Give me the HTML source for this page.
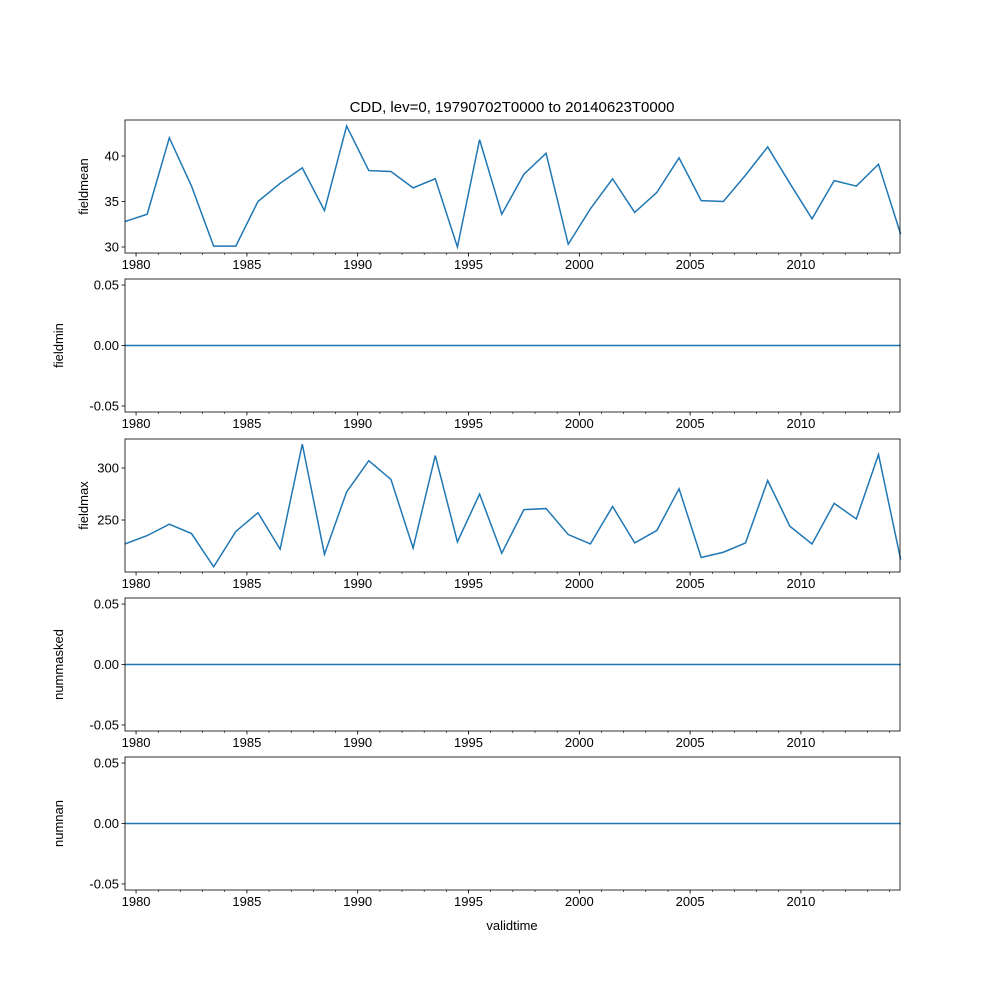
<!DOCTYPE html>
<html><head><meta charset="utf-8"><style>body{margin:0;background:#fff}svg{display:block;font-family:"Liberation Sans","DejaVu Sans",sans-serif}</style></head>
<body>
<svg id="chart" width="1000" height="1000" xmlns="http://www.w3.org/2000/svg">
<rect width="1000" height="1000" fill="#fff"/>
<text x="512" y="112" font-size="15" text-anchor="middle">CDD, lev=0, 19790702T0000 to 20140623T0000</text>
<text x="512" y="930" font-size="13" text-anchor="middle">validtime</text>
</svg>
<script>
const years = [1979,1980,1981,1982,1983,1984,1985,1986,1987,1988,1989,1990,1991,1992,1993,1994,1995,1996,1997,1998,1999,2000,2001,2002,2003,2004,2005,2006,2007,2008,2009,2010,2011,2012,2013,2014];
const fieldmean = [32.8,33.6,42.0,36.7,30.1,30.1,35.0,37.0,38.7,34.0,43.3,38.4,38.3,36.5,37.5,30.0,41.8,33.6,38.0,40.3,30.3,34.2,37.5,33.8,36.0,39.8,35.1,35.0,37.9,41.0,37.0,33.1,37.3,36.7,39.1,31.4];
const fieldmin = years.map(()=>0);
const fieldmax = [227,235,246,237,205,239,257,222,323,217,277,307,289,223,312,229,275,218,260,261,236,227,263,228,240,280,214,219,228,288,244,227,266,251,313,212];
const nummasked = years.map(()=>0);
const numnan = years.map(()=>0);
const xTickLabels = [1980,1985,1990,1995,2000,2005,2010];
const yTicksMean = [30,35,40];
const yTicksMax = [250,300];
const yTicksZero = [-0.05,0,0.05];

const svg=document.getElementById('chart');
const NS='http://www.w3.org/2000/svg';
const L=125,R=900;
const x0=1979.5,x1=2014.47;
function xs(v){return L+(v-x0)/(x1-x0)*(R-L);}
function mk(tag,attrs,parent){const e=document.createElementNS(NS,tag);for(const k in attrs)e.setAttribute(k,attrs[k]);(parent||svg).appendChild(e);return e;}
const panels=[
 {name:'fieldmean',data:fieldmean,top:120,bot:253,lo:29.34,hi:43.96,ticks:yTicksMean,fmt:v=>String(v)},
 {name:'fieldmin',data:fieldmin,top:279,bot:412,lo:-0.055,hi:0.055,ticks:yTicksZero,fmt:v=>v.toFixed(2)},
 {name:'fieldmax',data:fieldmax,top:439,bot:572,lo:200,hi:327.9,ticks:yTicksMax,fmt:v=>String(v)},
 {name:'nummasked',data:nummasked,top:598,bot:731,lo:-0.055,hi:0.055,ticks:yTicksZero,fmt:v=>v.toFixed(2)},
 {name:'numnan',data:numnan,top:757,bot:890,lo:-0.055,hi:0.055,ticks:yTicksZero,fmt:v=>v.toFixed(2)}
];
panels.forEach(p=>{
 const g=mk('g',{});
 
 
 const ys=v=>p.bot-(v-p.lo)/(p.hi-p.lo)*(p.bot-p.top);
 const pts=p.data.map((v,i)=>xs(years[i]+0.5)+','+ys(v)).join(' ');
 const line=mk('polyline',{points:pts,fill:'none',stroke:'#1f77b4','stroke-width':1.5},g);
 
 
 const frame=mk('rect',{x:L,y:p.top,width:R-L,height:p.bot-p.top,fill:'none',stroke:'#000','stroke-width':0.8},g);
 
 
 for(let y=1980;y<=2014;y++){mk('line',{x1:xs(y),x2:xs(y),y1:p.bot,y2:p.bot+2,stroke:'#000','stroke-width':0.6},g);}
 xTickLabels.forEach(t=>{
  mk('line',{x1:xs(t),x2:xs(t),y1:p.bot,y2:p.bot+3.5,stroke:'#000','stroke-width':0.8},g);
  const tx=mk('text',{x:xs(t),y:p.bot+16,'font-size':13,'text-anchor':'middle'},g);tx.textContent=t;
  
  
 });
 p.ticks.forEach(t=>{
  const y=ys(t);
  mk('line',{x1:L-3.5,x2:L,y1:y,y2:y,stroke:'#000','stroke-width':0.8},g);
  const tx=mk('text',{x:L-6,y:y+4.5,'font-size':13,'text-anchor':'end'},g);tx.textContent=p.fmt(t);
  
  
 });
 const cy=(p.top+p.bot)/2;
 const lab=mk('text',{x:0,y:0,'font-size':13,'text-anchor':'middle',transform:`translate(${p.name==='fieldmean'||p.name==='fieldmax'?88:63},${cy}) rotate(-90)`},g);
 lab.textContent=p.name;
 
 
});
</script>
</body></html>
